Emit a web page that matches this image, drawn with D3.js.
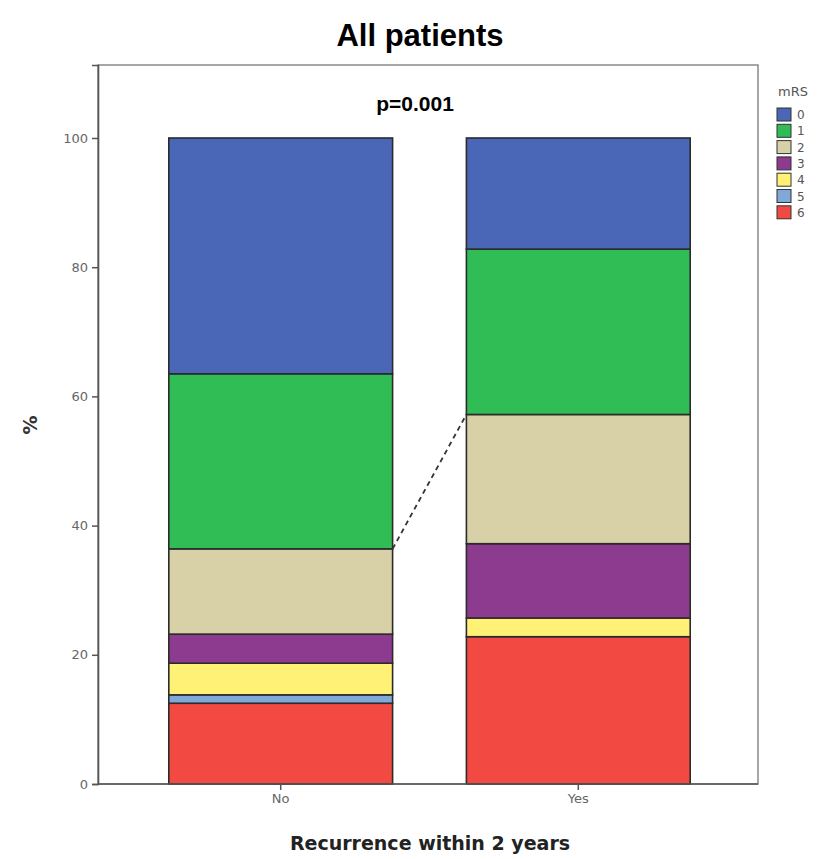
<!DOCTYPE html>
<html>
<head>
<meta charset="utf-8">
<script src="https://cdn.jsdelivr.net/npm/d3@7"></script>
<style>
  body { margin: 0; background: #fff; }
  svg { display: block; font-family: "DejaVu Sans", sans-serif; }
</style>
</head>
<body>
<svg width="820" height="859"></svg>
<script>
const groups = ["No", "Yes"];
const mrs_levels = ["0", "1", "2", "3", "4", "5", "6"];
const mrs_colors = ["#4a67b7", "#31bd55", "#d8d0a6", "#8d3b8f", "#fff175", "#80a8d8", "#f24a43"];
// percent per mRS level, same order as mrs_levels
const no_values = [36.5, 27.1, 13.2, 4.5, 4.9, 1.3, 12.5];
const yes_values = [17.2, 25.6, 20.0, 11.5, 2.9, 0.0, 22.8];
const y_ticks = [0, 20, 40, 60, 80, 100];

const width = 820, height = 859;
const margin = { left: 98, right: 62, top: 65, bottom: 75 };

const svg = d3.select("svg");

const x_scale = d3.scaleBand()
  .domain(groups)
  .range([95, 764])
  .paddingInner(0.248)
  .paddingOuter(0.248);

const y_scale = d3.scaleLinear()
  .domain([0, 111.3])
  .range([height - margin.bottom, margin.top]);

// frame
svg.append("rect")
  .attr("x", margin.left)
  .attr("y", margin.top)
  .attr("width", width - margin.right - margin.left)
  .attr("height", height - margin.bottom - margin.top)
  .attr("fill", "#fff")
  .attr("stroke", "#8a8a8a")
  .attr("stroke-width", 1.5);

// stack: draw from 6 (bottom) up to 0 (top)
const rows = groups.map((g, i) => {
  const vals = i === 0 ? no_values : yes_values;
  const row = { group: g };
  mrs_levels.forEach((m, j) => row[m] = vals[j]);
  return row;
});
const stack = d3.stack().keys(mrs_levels.slice().reverse());
const layers = stack(rows);

layers.forEach(layer => {
  const color = mrs_colors[mrs_levels.indexOf(layer.key)];
  svg.append("g")
    .selectAll("rect")
    .data(layer.filter(d => d[1] - d[0] > 0))
    .join("rect")
    .attr("x", d => x_scale(d.data.group))
    .attr("y", d => y_scale(d[1]))
    .attr("width", x_scale.bandwidth())
    .attr("height", d => y_scale(d[0]) - y_scale(d[1]))
    .attr("fill", color)
    .attr("stroke", "#2b2b2b")
    .attr("stroke-width", 1.6);
});

// dashed connector between tops of mRS 2 segments
const top2 = layers.find(l => l.key === "2");
svg.append("line")
  .attr("x1", x_scale("No") + x_scale.bandwidth())
  .attr("y1", y_scale(top2[0][1]))
  .attr("x2", x_scale("Yes"))
  .attr("y2", y_scale(top2[1][1]))
  .attr("stroke", "#333")
  .attr("stroke-width", 1.8)
  .attr("stroke-dasharray", "5,4");

// axes
const y_axis = d3.axisLeft(y_scale).tickValues(y_ticks).tickSize(6).tickPadding(4);
const ya = svg.append("g").attr("transform", `translate(${margin.left},0)`).call(y_axis);
ya.select(".domain").attr("stroke", "#555").attr("stroke-width", 1.6);
ya.selectAll(".tick line").attr("stroke", "#555").attr("stroke-width", 1.5);
ya.selectAll(".tick text").attr("fill", "#666").style("font-size", "13px")
  .style("font-family", "'DejaVu Sans', sans-serif");

const x_axis = d3.axisBottom(x_scale).tickSize(6).tickPadding(4);
const xa = svg.append("g").attr("transform", `translate(0,${height - margin.bottom})`).call(x_axis);
xa.select(".domain").attr("d", `M${margin.left},0H${width - margin.right}`)
  .attr("stroke", "#555").attr("stroke-width", 1.6);
xa.selectAll(".tick line").attr("stroke", "#555").attr("stroke-width", 1.5);
xa.selectAll(".tick text").attr("fill", "#666").style("font-size", "13px")
  .style("font-family", "'DejaVu Sans', sans-serif");

// titles
svg.append("text")
  .attr("x", 420).attr("y", 46)
  .attr("text-anchor", "middle")
  .style("font-family", "'Liberation Sans', Arial, sans-serif")
  .style("font-weight", "bold")
  .style("font-size", "31px")
  .text("All patients");

svg.append("text")
  .attr("x", 415).attr("y", 111)
  .attr("text-anchor", "middle")
  .style("font-family", "'Liberation Sans', Arial, sans-serif")
  .style("font-weight", "bold")
  .style("font-size", "21px")
  .text("p=0.001");

svg.append("text")
  .attr("transform", `translate(37, 425) rotate(-90)`)
  .attr("text-anchor", "middle")
  .style("font-weight", "bold")
  .style("font-size", "19px")
  .attr("fill", "#333")
  .text("%");

svg.append("text")
  .attr("x", 430).attr("y", 850)
  .attr("text-anchor", "middle")
  .style("font-weight", "bold")
  .style("font-size", "19px")
  .attr("fill", "#222")
  .text("Recurrence within 2 years");

// legend
const legend = svg.append("g").attr("transform", "translate(777,0)");
legend.append("text")
  .attr("x", 1).attr("y", 96)
  .attr("fill", "#555")
  .style("font-size", "13px")
  .text("mRS");
const items = legend.selectAll("g.item")
  .data(mrs_levels)
  .join("g")
  .attr("class", "item")
  .attr("transform", (d, i) => `translate(0,${108 + i * 16.3})`);
items.append("rect")
  .attr("width", 14).attr("height", 13)
  .attr("fill", (d, i) => mrs_colors[i])
  .attr("stroke", "#333")
  .attr("stroke-width", 1);
items.append("text")
  .attr("x", 20).attr("y", 11)
  .attr("fill", "#555")
  .style("font-size", "12px")
  .text(d => d);
</script>
</body>
</html>
